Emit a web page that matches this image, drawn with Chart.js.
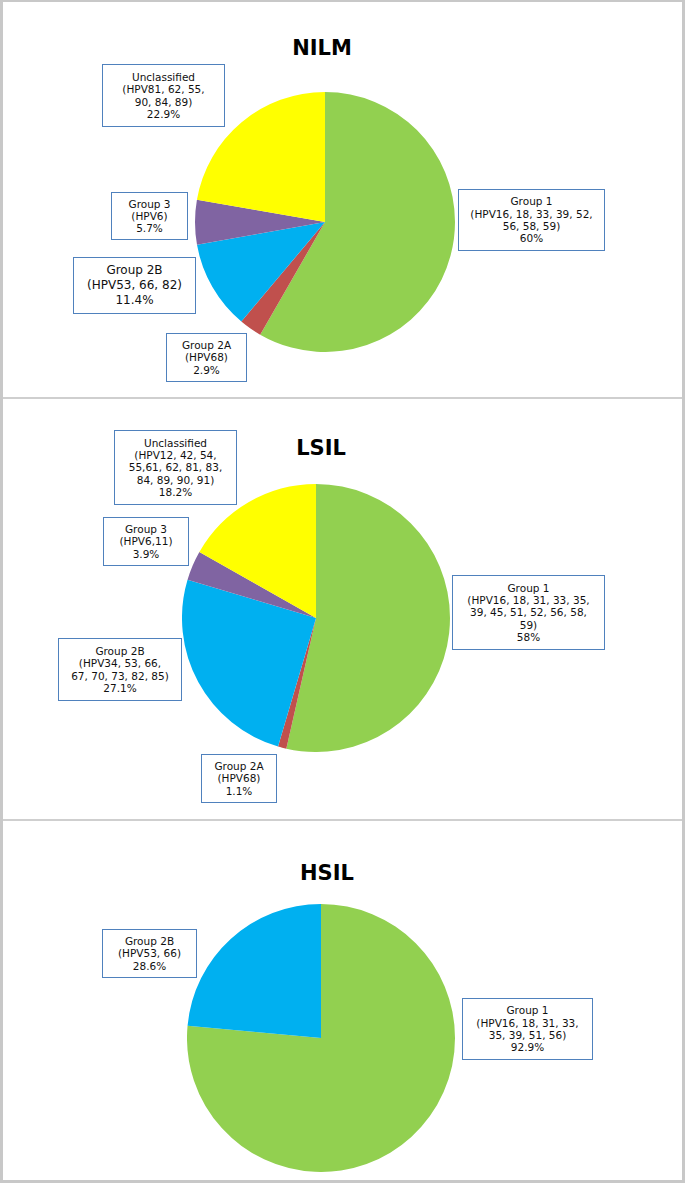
<!DOCTYPE html>
<html>
<head>
<meta charset="utf-8">
<script src="https://cdn.jsdelivr.net/npm/chart.js@4.4.0/dist/chart.umd.min.js"></script>
<style>
  body { margin: 0; background: #fff; }
  #page {
    position: relative; width: 685px; height: 1183px; box-sizing: border-box;
    border-left: 3px solid #c8c8c8; border-right: 3px solid #c8c8c8;
    border-top: 2px solid #c8c8c8; border-bottom: 3px solid #c8c8c8;
    font-family: "DejaVu Sans", Verdana, sans-serif; overflow: hidden;
  }
  .sep { position: absolute; left: 0; right: 0; height: 2px; background: #cfcfcf; }
  .title { position: absolute; width: 200px; margin-left: -100px; text-align: center;
    font-weight: bold; font-size: 21px; line-height: 24px; color: #000; }
  .pie { position: absolute; }
  .box {
    position: absolute; box-sizing: border-box; border: 1.5px solid #4f81bd; background: #fff;
    display: flex; align-items: center; justify-content: center; text-align: center;
    font-size: 10.5px; line-height: 12.3px; color: #111; white-space: nowrap;
  }
  .box.big { font-size: 12px; line-height: 15px; }
</style>
</head>
<body>
<div id="page"></div>
<script>
// ---- data ----
const categories = ['Group 1', 'Group 2A', 'Group 2B', 'Group 3', 'Unclassified'];
const colors = ['#92d050', '#c0504d', '#00b0f0', '#8064a2', '#ffff00'];

const nilmValues = [60, 2.9, 11.4, 5.7, 22.9];
const nilmTypes = [
  ['HPV16, 18, 33, 39, 52,', '56, 58, 59'],
  ['HPV68'],
  ['HPV53, 66, 82'],
  ['HPV6'],
  ['HPV81, 62, 55,', '90, 84, 89']
];

const lsilValues = [58, 1.1, 27.1, 3.9, 18.2];
const lsilTypes = [
  ['HPV16, 18, 31, 33, 35,', '39, 45, 51, 52, 56, 58,', '59'],
  ['HPV68'],
  ['HPV34, 53, 66,', '67, 70, 73, 82, 85'],
  ['HPV6,11'],
  ['HPV12, 42, 54,', '55,61, 62, 81, 83,', '84, 89, 90, 91']
];

const hsilCategories = ['Group 1', 'Group 2B'];
const hsilValues = [92.9, 28.6];
const hsilTypes = [
  ['HPV16, 18, 31, 33,', '35, 39, 51, 56'],
  ['HPV53, 66']
];

// ---- layout ----
const panels = [
  { title: 'NILM', tx: 322, ty: 36, cx: 325, cy: 222, r: 130,
    cats: categories, values: nilmValues, types: nilmTypes,
    boxes: [[458, 189, 147, 62], [166, 333, 81, 49], [73, 257, 123, 57, 'big'], [111, 192, 77, 48], [102, 64, 123, 63]] },
  { title: 'LSIL', tx: 321, ty: 436, cx: 316, cy: 618, r: 134,
    cats: categories, values: lsilValues, types: lsilTypes,
    boxes: [[452, 575, 153, 75], [201, 754, 76, 49], [58, 638, 124, 63], [103, 517, 86, 49], [114, 430, 123, 75]] },
  { title: 'HSIL', tx: 327, ty: 861, cx: 321, cy: 1038, r: 134,
    cats: hsilCategories, values: hsilValues, types: hsilTypes,
    boxes: [[462, 998, 131, 62], [102, 929, 95, 49]] }
];

const page = document.getElementById('page');
const OFF_X = 3, OFF_Y = 2; // border offsets

[397, 819].forEach(y => {
  const s = document.createElement('div');
  s.className = 'sep';
  s.style.top = (y - OFF_Y) + 'px';
  page.appendChild(s);
});

panels.forEach(p => {
  const t = document.createElement('div');
  t.className = 'title';
  t.textContent = p.title;
  t.style.left = (p.tx - OFF_X) + 'px';
  t.style.top = (p.ty - OFF_Y) + 'px';
  page.appendChild(t);

  const cv = document.createElement('canvas');
  cv.className = 'pie';
  cv.width = 2 * p.r; cv.height = 2 * p.r;
  cv.style.left = (p.cx - p.r - OFF_X) + 'px';
  cv.style.top = (p.cy - p.r - OFF_Y) + 'px';
  page.appendChild(cv);

  new Chart(cv.getContext('2d'), {
    type: 'pie',
    data: {
      labels: p.cats,
      datasets: [{
        data: p.values,
        backgroundColor: p.cats.map(c => colors[categories.indexOf(c)]),
        borderWidth: 0
      }]
    },
    options: {
      responsive: false,
      animation: false,
      layout: { padding: 0 },
      plugins: { legend: { display: false }, tooltip: { enabled: false } }
    }
  });

  p.cats.forEach((c, i) => {
    const b = p.boxes[i];
    const d = document.createElement('div');
    d.className = 'box' + (b[4] ? ' ' + b[4] : '');
    d.style.left = (b[0] - OFF_X) + 'px';
    d.style.top = (b[1] - OFF_Y) + 'px';
    d.style.width = b[2] + 'px';
    d.style.height = b[3] + 'px';
    const lines = p.types[i].slice();
    lines[0] = '(' + lines[0];
    lines[lines.length - 1] = lines[lines.length - 1] + ')';
    const inner = document.createElement('div');
    [c].concat(lines, [p.values[i] + '%']).forEach((ln, k) => {
      if (k) inner.appendChild(document.createElement('br'));
      inner.appendChild(document.createTextNode(ln));
    });
    d.appendChild(inner);
    page.appendChild(d);
  });
});
</script>
</body>
</html>
